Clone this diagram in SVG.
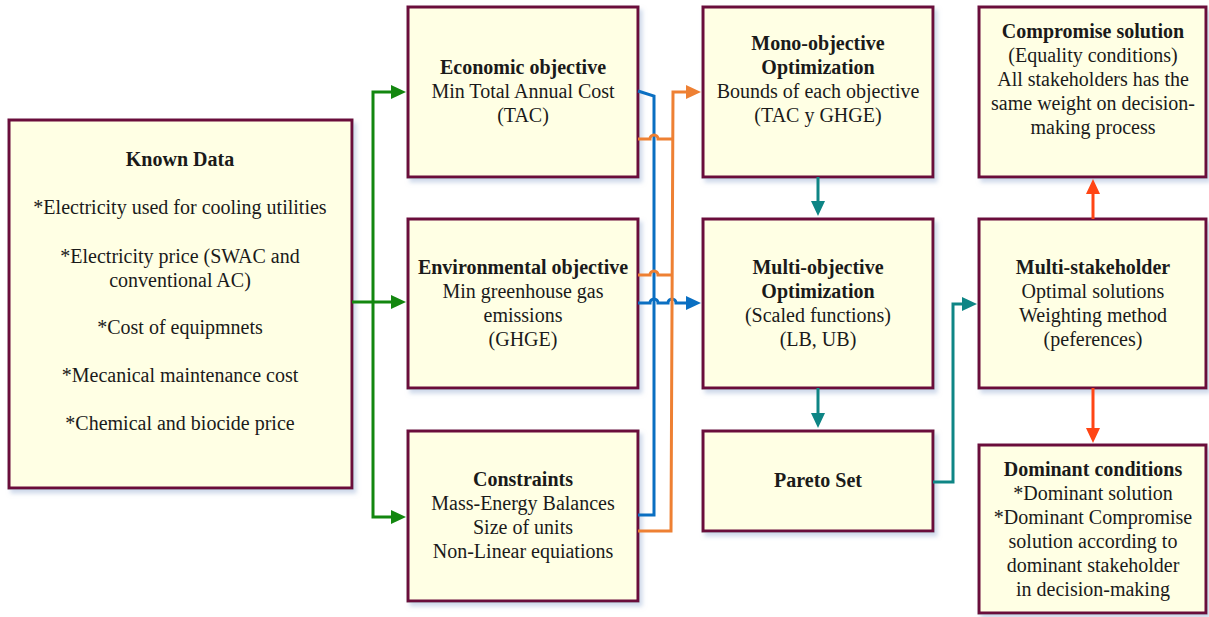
<svg xmlns="http://www.w3.org/2000/svg" width="1209" height="617" viewBox="0 0 1209 617">
<style>
.box{fill:#FFFFE4;stroke:#6A0A3A;stroke-width:3;filter:url(#sh)}
text{font-family:"Liberation Serif","Times New Roman",serif;font-size:20px;fill:#1a1a1a;text-anchor:middle}
.b{font-weight:bold}
.c{fill:none;stroke-width:3}
.g{stroke:#13870F}.bl{stroke:#0A6FC2}.o{stroke:#EE8033}.t{stroke:#0E8585}.r{stroke:#FF4514}
</style>
<defs>
<filter id="sh" x="-10%" y="-10%" width="120%" height="120%">
<feDropShadow dx="3" dy="4" stdDeviation="2" flood-color="#9fb4d6" flood-opacity="0.5"/>
</filter>
<marker id="ag" markerUnits="userSpaceOnUse" markerWidth="15" markerHeight="14" refX="5" refY="7" orient="auto"><path d="M0,0L15,7L0,14z" fill="#13870F"/></marker>
<marker id="ab" markerUnits="userSpaceOnUse" markerWidth="15" markerHeight="14" refX="5" refY="7" orient="auto"><path d="M0,0L15,7L0,14z" fill="#0A6FC2"/></marker>
<marker id="ao" markerUnits="userSpaceOnUse" markerWidth="15" markerHeight="14" refX="5" refY="7" orient="auto"><path d="M0,0L15,7L0,14z" fill="#EE8033"/></marker>
<marker id="at" markerUnits="userSpaceOnUse" markerWidth="15" markerHeight="14" refX="5" refY="7" orient="auto"><path d="M0,0L15,7L0,14z" fill="#0E8585"/></marker>
<marker id="ar" markerUnits="userSpaceOnUse" markerWidth="15" markerHeight="14" refX="5" refY="7" orient="auto"><path d="M0,0L15,7L0,14z" fill="#FF4514"/></marker>
</defs>
<rect width="1209" height="617" fill="#ffffff"/>

<g id="known">
<rect class="box" x="9" y="120" width="343" height="368"/>
<text class="b" x="180" y="166">Known Data</text>
<text x="180" y="214">*Electricity used for cooling utilities</text>
<text x="180" y="263">*Electricity price (SWAC and</text>
<text x="180" y="287">conventional AC)</text>
<text x="180" y="334">*Cost of equipmnets</text>
<text x="180" y="382">*Mecanical maintenance cost</text>
<text x="180" y="430">*Chemical and biocide price</text>
</g>

<g id="economic">
<rect class="box" x="408" y="7" width="230" height="170"/>
<text class="b" x="523" y="74">Economic objective</text>
<text x="523" y="98">Min Total Annual Cost</text>
<text x="523" y="122">(TAC)</text>
</g>

<g id="environmental">
<rect class="box" x="408" y="219" width="230" height="169"/>
<text class="b" x="523" y="274">Environmental objective</text>
<text x="523" y="298">Min greenhouse gas</text>
<text x="523" y="322">emissions</text>
<text x="523" y="346">(GHGE)</text>
</g>

<g id="constraints">
<rect class="box" x="408" y="431" width="230" height="170"/>
<text class="b" x="523" y="486">Constraints</text>
<text x="523" y="510">Mass-Energy Balances</text>
<text x="523" y="534">Size of units</text>
<text x="523" y="558">Non-Linear equiations</text>
</g>

<g id="mono">
<rect class="box" x="703" y="7" width="230" height="170"/>
<text class="b" x="818" y="50">Mono-objective</text>
<text class="b" x="818" y="74">Optimization</text>
<text x="818" y="98">Bounds of each objective</text>
<text x="818" y="122">(TAC y GHGE)</text>
</g>

<g id="multiobj">
<rect class="box" x="703" y="219" width="230" height="169"/>
<text class="b" x="818" y="274">Multi-objective</text>
<text class="b" x="818" y="298">Optimization</text>
<text x="818" y="322">(Scaled functions)</text>
<text x="818" y="346">(LB, UB)</text>
</g>

<g id="pareto">
<rect class="box" x="703" y="431" width="230" height="100"/>
<text class="b" x="818" y="487">Pareto Set</text>
</g>

<g id="compromise">
<rect class="box" x="979" y="7" width="227" height="170"/>
<text class="b" x="1093" y="38">Compromise solution</text>
<text x="1093" y="62">(Equality conditions)</text>
<text x="1093" y="86">All stakeholders has the</text>
<text x="1093" y="110">same weight on decision-</text>
<text x="1093" y="134">making process</text>
</g>

<g id="multistake">
<rect class="box" x="979" y="219" width="227" height="169"/>
<text class="b" x="1093" y="274">Multi-stakeholder</text>
<text x="1093" y="298">Optimal solutions</text>
<text x="1093" y="322">Weighting method</text>
<text x="1093" y="346">(peferences)</text>
</g>

<g id="dominant">
<rect class="box" x="979" y="445" width="227" height="168"/>
<text class="b" x="1093" y="476">Dominant conditions</text>
<text x="1093" y="500">*Dominant solution</text>
<text x="1093" y="524">*Dominant Compromise</text>
<text x="1093" y="548">solution according to</text>
<text x="1093" y="572">dominant stakeholder</text>
<text x="1093" y="596">in decision-making</text>
</g>

<g id="connectors">
<path class="c g" d="M352,302L396,302" marker-end="url(#ag)"/>
<path class="c g" d="M373,302L373,92L396,92" marker-end="url(#ag)"/>
<path class="c g" d="M373,302L373,517L396,517" marker-end="url(#ag)"/>

<path class="c bl" d="M638,91L654,96L654,515L638,515"/>
<path class="c bl" d="M638,303L650,303A4,4 0 0 1 658,303L668,303A4,4 0 0 1 676,303L691,303" marker-end="url(#ab)"/>

<path class="c o" d="M638,531L671,531L673,92L691,92" marker-end="url(#ao)"/>
<path class="c o" d="M638,139L650,139A4,4 0 0 1 658,139L673,139"/>
<path class="c o" d="M638,275L650,275A4,4 0 0 1 658,275L672,275"/>

<path class="c t" d="M818,177L818,206" marker-end="url(#at)"/>
<path class="c t" d="M818,388L818,418" marker-end="url(#at)"/>
<path class="c t" d="M933,482L953,482L953,304L967,304" marker-end="url(#at)"/>

<path class="c r" d="M1093,219L1093,189" marker-end="url(#ar)"/>
<path class="c r" d="M1093,388L1093,433" marker-end="url(#ar)"/>
</g>
</svg>
